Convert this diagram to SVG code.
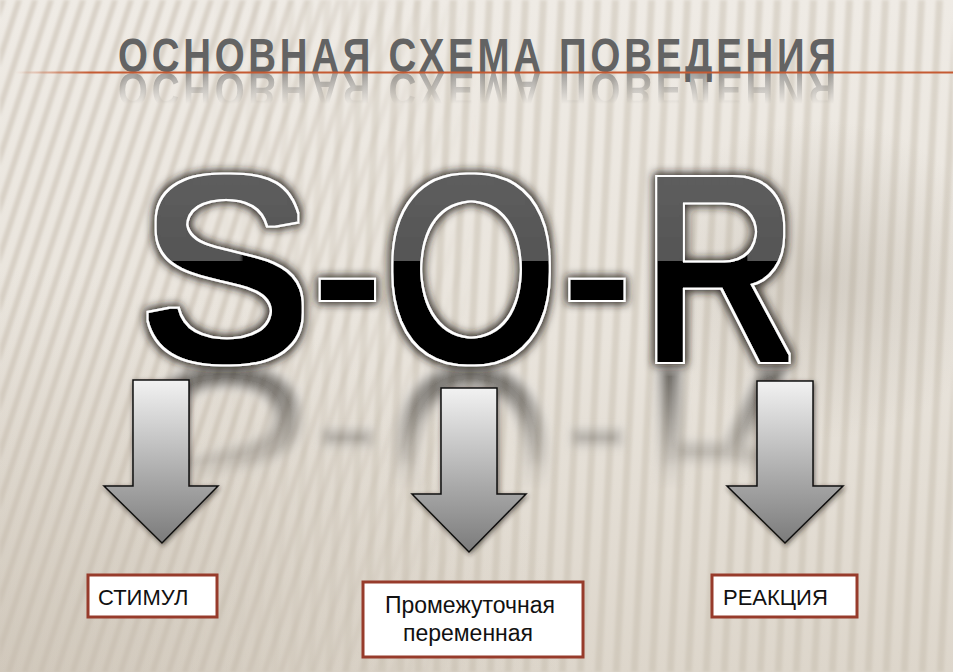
<svg xmlns="http://www.w3.org/2000/svg" xmlns:xlink="http://www.w3.org/1999/xlink" width="953" height="672" viewBox="0 0 953 672">
  <defs>
    <style>
      .arrow { stroke: #111; stroke-width: 1.5; stroke-linejoin: miter; fill: url(#arrowFill); filter: url(#arrowShadow); }
      .box { fill: #ffffff; stroke: #973b2b; stroke-width: 3; }
      .boxText { font-family: "Liberation Sans", Arial, sans-serif; font-size: 22px; fill: #111; }
      .sorText { font-family: "Liberation Sans", Arial, sans-serif; font-size: 260px; fill: url(#sorFill); stroke: none; }
      .thick { filter: url(#thickFx); }
      .thin { filter: url(#thinFx); }
    </style>
    <linearGradient id="bgGrad" x1="0" y1="0" x2="0" y2="1">
      <stop offset="0" stop-color="#efebe5"/>
      <stop offset="0.5" stop-color="#e9e4dc"/>
      <stop offset="1" stop-color="#ddd6cb"/>
    </linearGradient>
    <radialGradient id="cornerShade" cx="0" cy="1" r="0.6">
      <stop offset="0" stop-color="#b9ae9e" stop-opacity="0.35"/>
      <stop offset="1" stop-color="#b9ae9e" stop-opacity="0"/>
    </radialGradient>
    <radialGradient id="rightShade" cx="0.5" cy="0.5" r="0.5">
      <stop offset="0" stop-color="#8f8576" stop-opacity="0.25"/>
      <stop offset="1" stop-color="#8f8576" stop-opacity="0"/>
    </radialGradient>
    <pattern id="stripesSkew" width="16" height="20" patternUnits="userSpaceOnUse" patternTransform="skewX(-18)">
      <rect x="0" y="0" width="6" height="20" fill="#c4baab" fill-opacity="0.5"/>
    </pattern>
    <pattern id="stripesVert" width="18" height="20" patternUnits="userSpaceOnUse" patternTransform="skewX(-3)">
      <rect x="0" y="0" width="7" height="20" fill="#c4baab" fill-opacity="0.45"/>
    </pattern>
    <filter id="soft" x="0" y="0" width="1" height="1">
      <feGaussianBlur stdDeviation="1.8"/>
    </filter>
    <linearGradient id="leftMaskGrad" x1="0" y1="0" x2="1" y2="0">
      <stop offset="0" stop-color="#fff"/>
      <stop offset="0.25" stop-color="#fff"/>
      <stop offset="0.5" stop-color="#000"/>
    </linearGradient>
    <linearGradient id="rightMaskGrad" x1="0" y1="0" x2="1" y2="0">
      <stop offset="0.2" stop-color="#000"/>
      <stop offset="0.45" stop-color="#fff"/>
    </linearGradient>
    <mask id="leftMask" maskUnits="userSpaceOnUse" x="0" y="0" width="953" height="672">
      <rect width="953" height="672" fill="url(#leftMaskGrad)"/>
    </mask>
    <mask id="rightMask" maskUnits="userSpaceOnUse" x="0" y="0" width="953" height="672">
      <rect width="953" height="672" fill="url(#rightMaskGrad)"/>
    </mask>
    <linearGradient id="lineGrad" x1="15" y1="0" x2="953" y2="0" gradientUnits="userSpaceOnUse">
      <stop offset="0" stop-color="#c9633b" stop-opacity="0"/>
      <stop offset="0.08" stop-color="#c55a32" stop-opacity="1"/>
      <stop offset="1" stop-color="#c55a32"/>
    </linearGradient>
    <linearGradient id="titleRefGrad" x1="0" y1="73" x2="0" y2="104" gradientUnits="userSpaceOnUse">
      <stop offset="0" stop-color="#fff" stop-opacity="0.55"/>
      <stop offset="1" stop-color="#fff" stop-opacity="0"/>
    </linearGradient>
    <mask id="titleRefMask" maskUnits="userSpaceOnUse" x="0" y="73" width="953" height="40">
      <rect x="0" y="73" width="953" height="40" fill="url(#titleRefGrad)"/>
    </mask>
    <linearGradient id="sorFill" x1="0" y1="160" x2="0" y2="372" gradientUnits="userSpaceOnUse">
      <stop offset="0" stop-color="#5e5e5e"/>
      <stop offset="0.46" stop-color="#555555"/>
      <stop offset="0.46" stop-color="#000000"/>
      <stop offset="1" stop-color="#000000"/>
    </linearGradient>
    <filter id="thickFx" x="-10%" y="-10%" width="120%" height="120%">
      <feMorphology in="SourceGraphic" operator="dilate" radius="2.5" result="thick"/>
      <feMorphology in="SourceAlpha" operator="dilate" radius="4.5" result="ring"/>
      <feFlood flood-color="#ffffff" result="w"/>
      <feComposite in="w" in2="ring" operator="in" result="white"/>
      <feMerge>
        <feMergeNode in="white"/>
        <feMergeNode in="thick"/>
      </feMerge>
    </filter>
    <filter id="thinFx" x="-10%" y="-20%" width="120%" height="140%">
      <feMorphology in="SourceAlpha" operator="dilate" radius="2" result="ring"/>
      <feFlood flood-color="#ffffff" result="w"/>
      <feComposite in="w" in2="ring" operator="in" result="white"/>
      <feMerge>
        <feMergeNode in="white"/>
        <feMergeNode in="SourceGraphic"/>
      </feMerge>
    </filter>
    <filter id="glow" x="-15%" y="-15%" width="130%" height="130%">
      <feMorphology in="SourceAlpha" operator="dilate" radius="1.5" result="d"/>
      <feGaussianBlur in="d" stdDeviation="4.5" result="b"/>
      <feFlood flood-color="#231e1a" flood-opacity="0.95"/>
      <feComposite in2="b" operator="in" result="s"/>
      <feMerge>
        <feMergeNode in="s"/>
        <feMergeNode in="SourceGraphic"/>
      </feMerge>
    </filter>
    <filter id="refBlur" x="-10%" y="-10%" width="120%" height="120%">
      <feGaussianBlur stdDeviation="4"/>
    </filter>
    <linearGradient id="sorRefGrad" x1="0" y1="366" x2="0" y2="490" gradientUnits="userSpaceOnUse">
      <stop offset="0" stop-color="#fff" stop-opacity="0.5"/>
      <stop offset="1" stop-color="#fff" stop-opacity="0"/>
    </linearGradient>
    <mask id="sorRefMask" maskUnits="userSpaceOnUse" x="0" y="366" width="953" height="140">
      <rect x="0" y="366" width="953" height="140" fill="url(#sorRefGrad)"/>
    </mask>
    <linearGradient id="arrowFill" x1="0" y1="0" x2="0" y2="1">
      <stop offset="0" stop-color="#f2f2f2"/>
      <stop offset="0.6" stop-color="#a9a9a9"/>
      <stop offset="1" stop-color="#7b7b7b"/>
    </linearGradient>
    <filter id="arrowShadow" x="-20%" y="-10%" width="140%" height="125%">
      <feGaussianBlur in="SourceAlpha" stdDeviation="2.5"/>
      <feOffset dx="1" dy="2" result="o"/>
      <feFlood flood-color="#2a241f" flood-opacity="0.6"/>
      <feComposite in2="o" operator="in" result="s"/>
      <feMerge>
        <feMergeNode in="s"/>
        <feMergeNode in="SourceGraphic"/>
      </feMerge>
    </filter>
  </defs>

  <g id="background">
    <rect width="953" height="672" fill="url(#bgGrad)"/>
    <rect width="953" height="672" fill="url(#cornerShade)"/>
    <g filter="url(#soft)">
      <rect width="953" height="672" fill="url(#stripesSkew)" mask="url(#leftMask)"/>
      <rect width="953" height="672" fill="url(#stripesVert)" mask="url(#rightMask)"/>
    </g>
    <rect x="640" y="120" width="360" height="320" fill="url(#rightShade)"/>
  </g>

  <g id="title">
    <text id="title-text" transform="scale(0.8,1)" x="147.5" y="72" font-family="'Liberation Sans Narrow','Liberation Sans',Arial,sans-serif" font-weight="bold" font-size="48" fill="#636363" textLength="897.5" lengthAdjust="spacing">ОСНОВНАЯ СХЕМА ПОВЕДЕНИЯ</text>
    <g mask="url(#titleRefMask)">
      <use xlink:href="#title-text" href="#title-text" transform="translate(0,145) scale(1,-1)"/>
    </g>
    <line x1="15" y1="72.5" x2="953" y2="72.5" stroke="url(#lineGrad)" stroke-width="2"/>
  </g>

  <g id="sor-reflection" mask="url(#sorRefMask)">
    <use xlink:href="#sor-letters" href="#sor-letters" transform="translate(0,728) scale(1,-1)" filter="url(#refBlur)"/>
  </g>

  <g id="sor" filter="url(#glow)">
    <g id="sor-letters">
      <g class="thick"><text class="sorText" transform="translate(139.75,0) scale(0.985,1)" x="0" y="359">S</text></g>
      <g class="thin"><text class="sorText" transform="translate(311,0) scale(0.84,1)" x="0" y="359">-</text></g>
      <g class="thick"><text class="sorText" transform="translate(385.9,0) scale(0.843,1)" x="0" y="359">O</text></g>
      <g class="thin"><text class="sorText" transform="translate(560.6,0) scale(0.84,1)" x="0" y="359">-</text></g>
      <g class="thick"><text class="sorText" transform="translate(642.8,0) scale(0.815,1)" x="0" y="359">R</text></g>
    </g>
  </g>

  <g id="connectors">
    <path class="arrow" d="M133,380 H189 V486 H218 L162,543 L104,486 H133 Z"/>
    <path class="arrow" d="M441,388 H497 V494 H526 L469,552 L412,494 H441 Z"/>
    <path class="arrow" d="M757,381 H813 V486 H843 L785,543 L727,486 H757 Z"/>
  </g>

  <g id="node-stimul">
    <rect class="box" x="88" y="575" width="129" height="42"/>
    <text class="boxText" x="98" y="605">СТИМУЛ</text>
  </g>

  <g id="node-intermediate">
    <rect class="box" x="363" y="582" width="220" height="75"/>
    <text class="boxText" x="470" y="613" text-anchor="middle" style="font-size:23px">Промежуточная</text>
    <text class="boxText" x="468" y="641" text-anchor="middle" style="font-size:23px">переменная</text>
  </g>

  <g id="node-reaction">
    <rect class="box" x="712" y="575" width="145" height="42"/>
    <text class="boxText" x="723" y="605">РЕАКЦИЯ</text>
  </g>
</svg>
